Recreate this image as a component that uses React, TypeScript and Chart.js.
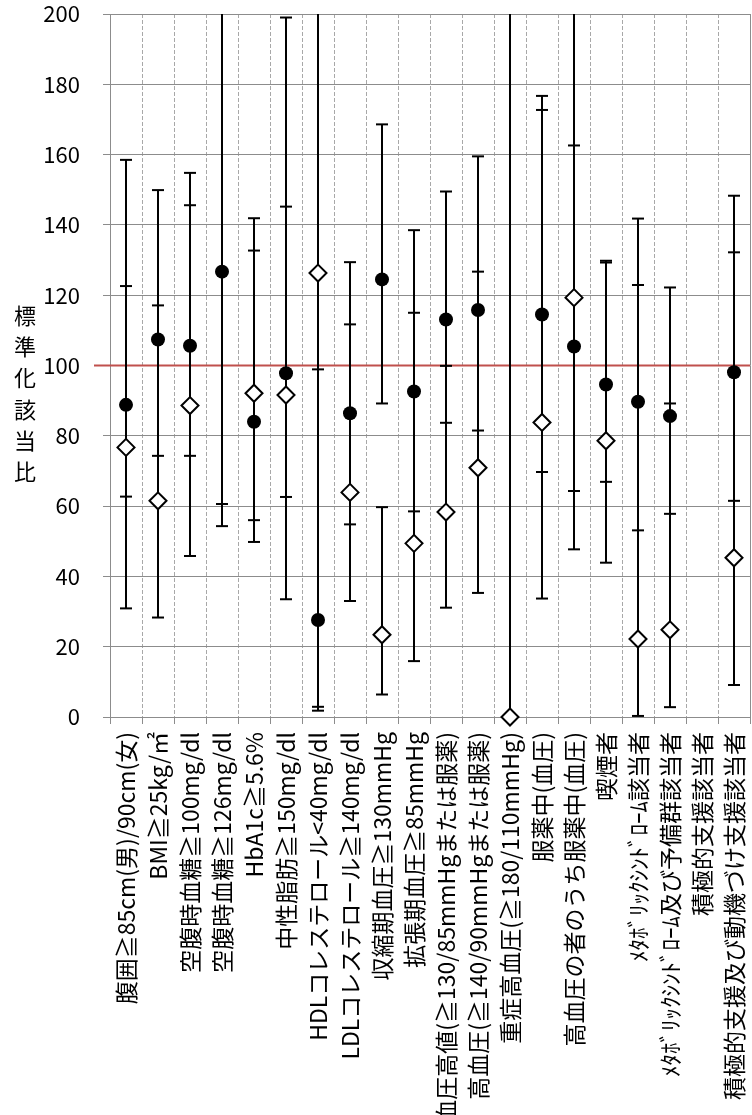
import React, { useEffect, useRef } from "react";
import { Chart, registerables } from "chart.js";

Chart.register(...registerables);

// ---------- data ----------
const categories: string[] = [
  "腹囲≧85cm(男)/90cm(女)",
  "BMI≧25kg/㎡",
  "空腹時血糖≧100mg/dl",
  "空腹時血糖≧126mg/dl",
  "HbA1c≧5.6%",
  "中性脂肪≧150mg/dl",
  "HDLコレステロール<40mg/dl",
  "LDLコレステロール≧140mg/dl",
  "収縮期血圧≧130mmHg",
  "拡張期血圧≧85mmHg",
  "血圧高値(≧130/85mmHgまたは服薬)",
  "高血圧(≧140/90mmHgまたは服薬)",
  "重症高血圧(≧180/110mmHg)",
  "服薬中(血圧)",
  "高血圧の者のうち服薬中(血圧)",
  "喫煙者",
  "ﾒﾀﾎﾞﾘｯｸｼﾝﾄﾞﾛｰﾑ該当者",
  "ﾒﾀﾎﾞﾘｯｸｼﾝﾄﾞﾛｰﾑ及び予備群該当者",
  "積極的支援該当者",
  "積極的支援及び動機づけ支援該当者",
];

// filled circle series
const circleValues: (number | null)[] = [88.8, 107.4, 105.6, 126.7, 84.0, 97.8, 27.6, 86.4, 124.5, 92.6, 113.1, 115.8, null, 114.5, 105.4, 94.6, 89.7, 85.6, null, 98.1];
const circleLower: (number | null)[] = [62.7, 74.3, 74.3, 60.6, 56.0, 62.6, 2.9, 54.8, 89.2, 58.5, 83.7, 81.5, null, 69.7, 64.3, 66.9, 53.1, 57.8, null, 61.5];
const circleUpper: (number | null)[] = [122.6, 149.9, 145.6, 233, 132.7, 145.2, 98.9, 129.4, 168.6, 138.5, 149.5, 159.5, null, 176.7, 162.6, 129.3, 141.8, 122.2, null, 148.3];

// open diamond series
const diamondValues: (number | null)[] = [76.7, 61.5, 88.6, null, 92.1, 91.6, 126.3, 63.9, 23.4, 49.4, 58.3, 70.9, 0, 83.8, 119.3, 78.6, 22.2, 24.8, null, 45.3];
const diamondLower: (number | null)[] = [30.9, 28.3, 45.8, 54.3, 49.8, 33.5, 1.8, 33.0, 6.4, 15.9, 31.1, 35.3, 0, 33.7, 47.7, 43.9, 0.3, 2.8, null, 9.1];
const diamondUpper: (number | null)[] = [158.5, 117.1, 154.8, 300, 141.9, 199.0, 700, 111.7, 59.7, 115.0, 99.9, 126.7, 300, 172.7, 290, 129.8, 122.9, 89.2, null, 132.2];

const REFERENCE_VALUE = 100;
const Y_MIN = 0;
const Y_MAX = 200;
const Y_STEP = 20;
const Y_TITLE = "標準化該当比";

// ---------- style ----------
const FONT = "'Noto Sans CJK JP', 'Noto Sans', sans-serif";
const GRID_SOLID = "#8c8c8c";
const GRID_DASH = "#a8a8a8";

const errorBarPlugin = {
  id: "errorBars",
  beforeDatasetsDraw(chart: any) {
    const { ctx, chartArea, scales } = chart;
    const xs = scales.x;
    const ys = scales.y;
    ctx.save();
    // reference line
    const yRef = ys.getPixelForValue(REFERENCE_VALUE);
    ctx.strokeStyle = "#c0504d";
    ctx.lineWidth = 2;
    ctx.beginPath();
    ctx.moveTo(chartArea.left - 16, yRef);
    ctx.lineTo(chartArea.right, yRef);
    ctx.stroke();

    ctx.strokeStyle = "#000";
    ctx.lineWidth = 2;
    const bars = [
      { lower: diamondLower, upper: diamondUpper },
      { lower: circleLower, upper: circleUpper },
    ];
    const capHalf = 6;
    for (const b of bars) {
      b.lower.forEach((lo, i) => {
        const hi = b.upper[i];
        if (lo == null || hi == null) return;
        const px = xs.getPixelForValue(i);
        const yLo = ys.getPixelForValue(Math.max(lo, Y_MIN));
        const yHi = ys.getPixelForValue(Math.min(hi, Y_MAX));
        ctx.beginPath();
        ctx.moveTo(px, yLo);
        ctx.lineTo(px, yHi);
        ctx.stroke();
        if (hi <= Y_MAX) {
          ctx.beginPath();
          ctx.moveTo(px - capHalf, yHi);
          ctx.lineTo(px + capHalf, yHi);
          ctx.stroke();
        }
        if (lo >= Y_MIN) {
          ctx.beginPath();
          ctx.moveTo(px - capHalf, yLo);
          ctx.lineTo(px + capHalf, yLo);
          ctx.stroke();
        }
      });
    }
    ctx.restore();
  },
  afterDraw(chart: any) {
    const { ctx, chartArea } = chart;
    ctx.save();
    ctx.fillStyle = "#000";
    ctx.font = `22px ${FONT}`;
    ctx.textAlign = "center";
    ctx.textBaseline = "middle";
    const chars = Array.from(Y_TITLE);
    const spacing = 31.3;
    const cy = (chartArea.top + chartArea.bottom) / 2 + 28;
    const cx = chartArea.left - 85;
    chars.forEach((c, i) => {
      ctx.fillText(c, cx, cy + (i - (chars.length - 1) / 2) * spacing);
    });
    ctx.restore();
  },
};

export default function App() {
  const ref = useRef<HTMLCanvasElement>(null);

  useEffect(() => {
    if (!ref.current) return;
    const chart = new Chart(ref.current, {
      type: "line",
      data: {
        labels: categories,
        datasets: [
          {
            label: "circle",
            data: circleValues,
            showLine: false,
            pointStyle: "circle",
            pointRadius: 7,
            pointHoverRadius: 7,
            pointBackgroundColor: "#000",
            pointBorderColor: "#000",
            pointBorderWidth: 0,
            clip: false,
          } as any,
          {
            label: "diamond",
            data: diamondValues,
            showLine: false,
            pointStyle: "rectRot",
            pointRadius: 8.5,
            pointHoverRadius: 8.5,
            pointBackgroundColor: "#fff",
            pointBorderColor: "#000",
            pointBorderWidth: 2,
            clip: false,
          } as any,
        ],
      },
      options: {
        responsive: false,
        maintainAspectRatio: false,
        devicePixelRatio: 1,
        animation: false,
        layout: { autoPadding: false, padding: { left: 0, right: 2, top: 14, bottom: 0 } },
        plugins: { legend: { display: false }, tooltip: { enabled: false } },
        events: [],
        scales: {
          x: {
            type: "category",
            offset: true,
            grid: {
              offset: true,
              drawOnChartArea: true,
              color: (c: any) => (c.type !== "tick" || c.index === 0 ? GRID_SOLID : GRID_DASH),
              tickColor: GRID_SOLID,
              tickLength: 7,
              lineWidth: 1,
            },
            border: {
              display: true,
              color: GRID_SOLID,
              width: 1,
              dash: (c: any) => (c.type !== "tick" || c.index === 0 ? [] : [4, 2]),
            } as any,
            ticks: {
              autoSkip: false,
              maxRotation: 90,
              minRotation: 90,
              padding: 8,
              color: "#000",
              font: { family: FONT, size: 23 },
            },
            afterFit: (s: any) => {
              s.height = 398;
              s.paddingLeft = 0;
              s.paddingRight = 0;
            },
          },
          y: {
            type: "linear",
            min: Y_MIN,
            max: Y_MAX,
            grid: { color: GRID_SOLID, tickColor: GRID_SOLID, tickLength: 7, lineWidth: 1 },
            border: { display: true, color: GRID_SOLID, width: 1 },
            ticks: {
              stepSize: Y_STEP,
              padding: 23,
              color: "#000",
              font: { family: FONT, size: 22 },
            },
            afterFit: (s: any) => {
              s.width = 110;
              s.paddingTop = 0;
              s.paddingBottom = 0;
            },
          },
        },
      },
      plugins: [errorBarPlugin],
    });
    return () => chart.destroy();
  }, []);

  return (
    <div style={{ position: "absolute", left: 0, top: 0, width: 752, height: 1115, background: "#fff" }}>
      <canvas ref={ref} width={752} height={1115} style={{ display: "block", width: 752, height: 1115 }} />
    </div>
  );
}
